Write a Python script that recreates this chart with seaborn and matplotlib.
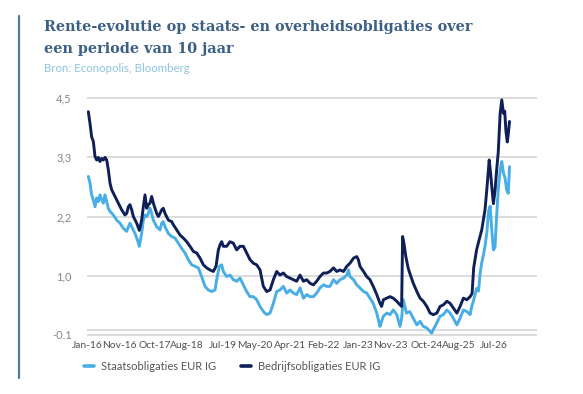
import matplotlib
matplotlib.use("Agg")
import matplotlib.pyplot as plt
from matplotlib.lines import Line2D
import seaborn as sns
import pandas as pd

# ---- data ----
title_lines = ["Rente-evolutie op staats- en overheidsobligaties over",
               "een periode van 10 jaar"]
subtitle = "Bron: Econopolis, Bloomberg"
series_names = ["Staatsobligaties EUR IG", "Bedrijfsobligaties EUR IG"]

# months since Jan-2016
months_bedrijf = [0.41, 0.93, 1.44, 1.96, 2.48, 2.99, 3.51, 4.02, 4.54, 5.06,
                  5.57, 6.09, 6.60, 7.12, 7.64, 8.67, 9.70, 10.73, 11.76, 12.28,
                  12.80, 13.31, 13.83, 14.34, 15.38, 16.20, 16.92, 17.44, 17.96, 18.47,
                  18.99, 19.50, 20.02, 20.54, 21.05, 21.57, 22.08, 22.60, 23.12, 23.63,
                  24.15, 25.18, 26.21, 26.73, 27.76, 28.79, 29.82, 30.86, 31.89, 32.92,
                  33.95, 34.98, 36.02, 37.05, 38.08, 39.11, 39.94, 40.66, 41.18, 41.69,
                  42.21, 43.24, 44.27, 45.30, 46.34, 47.37, 48.40, 49.43, 50.46, 51.50,
                  52.53, 53.56, 54.59, 55.62, 56.66, 57.69, 58.72, 59.75, 60.78, 61.82,
                  62.85, 63.88, 64.91, 65.94,
                  67.0, 68.0, 69.05, 70.08, 71.1, 72.1, 73.2, 74.2, 75.2, 76.3,
                  77.3, 78.3, 79.4, 80.4, 81.4, 82.5, 83.5, 84.0, 84.5, 85.6,
                  86.6, 87.6, 88.6, 89.7, 90.7, 91.2, 91.75, 92.8, 93.8, 94.8,
                  95.9, 96.9, 97.4, 97.7, 98.1, 98.7, 99.4, 99.9, 101.0, 102.1,
                  103.1, 104.1, 105.2, 106.2, 107.2, 108.3, 109.3, 110.3, 111.4, 112.4,
                  113.4, 114.5, 115.5, 116.5, 117.6, 118.6,
                  119.2, 119.7, 120.6, 121.4, 122.2, 123.2, 123.8, 124.5, 125.0, 125.3,
                  125.8, 126.3, 126.8, 127.3, 127.9, 128.4, 128.9, 129.3, 129.7, 130.1,
                  130.4, 130.8]
rente_bedrijf = [4.24, 4.01, 3.75, 3.66, 3.37, 3.30, 3.35, 3.27, 3.33, 3.30,
                 3.35, 3.30, 3.11, 2.85, 2.72, 2.59, 2.46, 2.33, 2.23, 2.26,
                 2.39, 2.43, 2.33, 2.20, 2.07, 1.93, 2.13, 2.39, 2.62, 2.36,
                 2.43, 2.46, 2.59, 2.46, 2.36, 2.26, 2.20, 2.26, 2.33, 2.36,
                 2.26, 2.13, 2.10, 2.04, 1.94, 1.84, 1.78, 1.71, 1.62, 1.52,
                 1.49, 1.39, 1.26, 1.20, 1.16, 1.13, 1.23, 1.55, 1.65, 1.71,
                 1.62, 1.62, 1.71, 1.68, 1.55, 1.62, 1.62, 1.49, 1.36, 1.29,
                 1.26, 1.16, 0.84, 0.74, 0.77, 0.97, 1.13, 1.06, 1.10, 1.03,
                 1.00, 0.97, 0.94, 1.06,
                 0.94, 0.97, 0.90, 0.87, 0.94, 1.03, 1.10, 1.10, 1.13, 1.20,
                 1.13, 1.16, 1.13, 1.23, 1.29, 1.39, 1.42, 1.36, 1.23, 1.13,
                 1.03, 0.97, 0.84, 0.68, 0.51, 0.45, 0.58, 0.61, 0.64, 0.61,
                 0.55, 0.48, 0.45, 1.81, 1.68, 1.42, 1.20, 1.10, 0.90, 0.74,
                 0.61, 0.55, 0.45, 0.32, 0.29, 0.32, 0.45, 0.48, 0.55, 0.51,
                 0.42, 0.32, 0.45, 0.61, 0.58, 0.64,
                 0.70, 1.20, 1.55, 1.75, 1.94, 2.33, 2.75, 3.30, 3.00, 2.78,
                 2.45, 2.70, 3.10, 3.45, 4.21, 4.47, 4.21, 4.25, 3.85, 3.65,
                 3.80, 4.05]

months_staats = [0.41, 0.93, 1.44, 1.96, 2.48, 2.99, 3.51, 4.02, 4.54, 5.06,
                 5.57, 6.09, 6.60, 7.12, 8.15, 9.18, 10.22, 11.25, 12.28, 12.80,
                 13.31, 13.83, 14.86, 15.58, 16.20, 16.92, 17.44, 17.96, 18.47, 18.99,
                 19.50, 20.02, 20.54, 21.57, 22.60, 23.12, 23.63, 24.15, 25.18, 26.21,
                 27.24, 28.28, 29.31, 30.34, 31.37, 32.40, 33.44, 34.47, 35.50, 36.53,
                 37.56, 38.60, 39.63, 40.14, 40.97, 41.69, 42.21, 43.24, 44.27, 45.30,
                 46.34, 47.37, 48.40, 49.43, 50.46, 51.50, 52.53, 53.56, 54.59, 55.62,
                 56.66, 57.69, 58.72, 59.75, 60.78, 61.82, 62.85, 63.88, 64.91, 65.94,
                 67.0, 68.0, 69.05, 70.08, 71.1, 72.1, 73.2, 74.2, 75.2, 76.3,
                 77.3, 78.3, 79.4, 80.4, 80.9, 81.4, 82.5, 83.5, 84.5, 85.6,
                 86.6, 87.6, 88.6, 89.7, 90.7, 91.2, 91.75, 92.8, 93.8, 94.8,
                 95.9, 96.9, 97.4, 97.9, 98.4, 98.9, 99.9, 101.0, 102.1, 103.1,
                 104.1, 105.2, 106.2, 106.7, 107.2, 108.3, 109.3, 110.3, 111.4, 112.4,
                 113.4, 114.5, 115.5, 116.5, 117.6, 118.6, 119.1,
                 119.6, 120.6, 121.2, 121.7, 122.2, 122.7, 123.2, 123.8, 124.3, 124.8,
                 125.3, 125.8, 126.3, 126.8, 127.3, 127.9, 128.4, 128.9, 129.4, 129.9,
                 130.4, 130.8]
rente_staats = [2.98, 2.85, 2.62, 2.52, 2.39, 2.56, 2.49, 2.62, 2.52, 2.46,
                2.62, 2.49, 2.36, 2.30, 2.23, 2.13, 2.07, 1.97, 1.91, 2.00,
                2.07, 2.00, 1.87, 1.75, 1.62, 1.87, 2.13, 2.23, 2.20, 2.26,
                2.36, 2.26, 2.13, 2.00, 1.94, 2.07, 2.10, 2.00, 1.87, 1.81,
                1.78, 1.68, 1.58, 1.49, 1.36, 1.26, 1.23, 1.20, 1.03, 0.84,
                0.77, 0.74, 0.77, 0.97, 1.23, 1.26, 1.13, 1.03, 1.06, 0.97,
                0.94, 1.00, 0.87, 0.74, 0.64, 0.64, 0.58, 0.45, 0.35, 0.29,
                0.32, 0.51, 0.74, 0.77, 0.84, 0.71, 0.77, 0.71, 0.68, 0.81,
                0.61, 0.68, 0.64, 0.64, 0.71, 0.81, 0.87, 0.84, 0.84, 0.97,
                0.90, 0.97, 1.00, 1.06, 1.16, 1.03, 0.97, 0.87, 0.81, 0.74,
                0.71, 0.61, 0.51, 0.32, 0.06, 0.16, 0.26, 0.32, 0.29, 0.38,
                0.29, 0.06, 0.22, 0.58, 0.45, 0.32, 0.35, 0.22, 0.09, 0.16,
                0.06, 0.03, -0.04, -0.07, 0.00, 0.13, 0.26, 0.29, 0.38, 0.32,
                0.22, 0.09, 0.22, 0.38, 0.35, 0.29, 0.45,
                0.55, 0.80, 0.75, 1.10, 1.30, 1.45, 1.62, 1.90, 2.30, 2.40,
                1.94, 1.55, 1.60, 2.20, 2.72, 3.11, 3.27, 3.05, 2.95, 2.72,
                2.65, 3.17]

tick_months = [0, 10, 21, 31, 42, 52, 63, 73, 84, 94, 105, 115, 126]
tick_labels_x = ["Jan-16", "Nov-16", "Oct-17", "Aug-18", "Jul-19", "May-20", "Apr-21",
                 "Feb-22", "Jan-23", "Nov-23", "Oct-24", "Aug-25", "Jul-26"]
ytick_values = [-0.1, 1.05, 2.2, 3.35, 4.5]
ytick_labels = ["-0.1", "1,0", "2,2", "3,3", "4,5"]

# ---- styling ----
sns.set_theme(style="white")
plt.rcParams["font.family"] = ["Lato", "DejaVu Sans"]

c_light = "#49aee6"
c_dark = "#0f1f57"
palette = {series_names[0]: c_light, series_names[1]: c_dark}

df = pd.concat([
    pd.DataFrame({"maand": months_staats, "rente": rente_staats, "reeks": series_names[0]}),
    pd.DataFrame({"maand": months_bedrijf, "rente": rente_bedrijf, "reeks": series_names[1]}),
], ignore_index=True)

fig = plt.figure(figsize=(5.83, 3.94), dpi=100)
ax = fig.add_axes([87 / 583, 1 - 335.7 / 394, (537 - 87) / 583, (335.7 - 97.3) / 394])

sns.lineplot(data=df, x="maand", y="rente", hue="reeks", hue_order=series_names,
             palette=palette, estimator=None, sort=False, linewidth=2.1,
             legend=False, ax=ax)

ax.set_xlim(0, 139.3)
ax.set_ylim(-0.12, 4.52)
ax.set_yticks(ytick_values)
ax.set_yticklabels(ytick_labels)
ax.set_xticks(tick_months)
ax.set_xticklabels(tick_labels_x)
ax.set_xlabel("")
ax.set_ylabel("")
ax.yaxis.grid(True, color="#d9d9d9", linewidth=1.3, zorder=0)
ax.xaxis.grid(False)
ax.axhline(0, color="#d9d9d9", linewidth=1.3, zorder=0.5)
ax.set_axisbelow(True)
for s in ax.spines.values():
    s.set_visible(False)
ax.tick_params(axis="y", length=0, pad=11, labelsize=8.0, labelcolor="#858585")
ax.tick_params(axis="x", length=0, pad=4, labelsize=7.4, labelcolor="#505050")

# title & source
title_kw = dict(fontsize=11.0, family="DejaVu Serif", weight="bold",
                color="#3c5f86", va="baseline", ha="left")
t1 = fig.text(44 / 583, 1 - 31 / 394, title_lines[0], **title_kw)
t2 = fig.text(44 / 583, 1 - 53 / 394, title_lines[1], **title_kw)
# fit first title line to the reference width (~425 px)
renderer = fig.canvas.get_renderer()
w = t1.get_window_extent(renderer=renderer).width
new_size = 11.0 * 425.0 / w
t1.set_fontsize(new_size)
t2.set_fontsize(new_size)

fig.text(44 / 583, 1 - 68 / 394, subtitle, fontsize=8.3, color="#8fc4e0",
         va="center", ha="left")

# left accent bar
fig.add_artist(Line2D([18.5 / 583, 18.5 / 583], [1 - 16 / 394, 1 - 378 / 394],
                      transform=fig.transFigure, color="#4f7aa6", linewidth=1.6))

handles = [Line2D([], [], color=c_light, linewidth=2.6),
           Line2D([], [], color=c_dark, linewidth=2.6)]
fig.legend(handles, series_names, loc="center left",
           bbox_to_anchor=(84 / 583, 1 - 366 / 394), ncol=2, frameon=False,
           fontsize=8.0, handlelength=0.9, handletextpad=0.65, columnspacing=2.2,
           labelcolor="#555555", borderaxespad=0, borderpad=0)

fig.savefig("out.png", dpi=100, facecolor="white")
